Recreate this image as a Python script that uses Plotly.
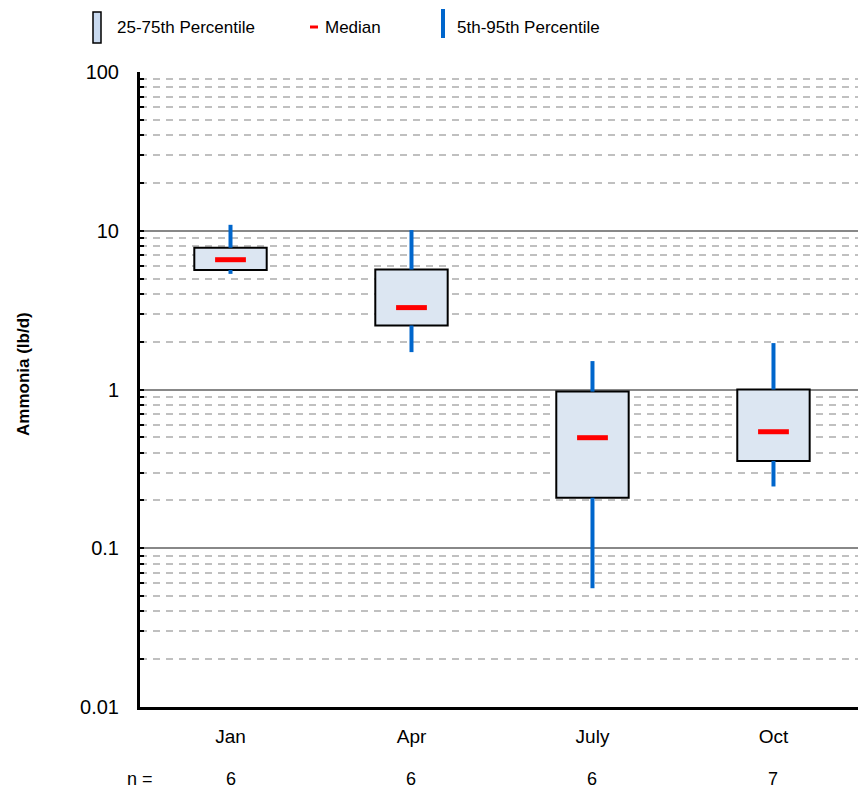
import plotly.graph_objects as go

# Seasonal ammonia load summary statistics (lb/d)
months = ["Jan", "Apr", "July", "Oct"]
p05 = [5.35, 1.72, 0.056, 0.245]
p25 = [5.66, 2.53, 0.208, 0.355]
p50 = [6.57, 3.28, 0.497, 0.542]
p75 = [7.82, 5.70, 0.970, 1.00]
p95 = [10.9, 10.1, 1.51, 1.96]
counts = [6, 6, 6, 7]
y_ticks = [0.01, 0.1, 1, 10, 100]
y_tick_text = ["0.01", "0.1", "1", "10", "100"]

FONT = "Liberation Sans, Arial, sans-serif"
BOX_FILL = "#DCE6F2"
WHISKER = "#0066CC"
MEDIAN = "#FF0000"

# plot-area geometry in pixels (for paper-coordinate helpers)
L, R, T, B = 140, 858, 72, 707


def px_x(px):
    return (px - L) / (R - L)


def px_y(py):
    return (B - py) / (B - T)


fig = go.Figure()

# whiskers: 5th->25th and 75th->95th percentile segments
wx, wy = [], []
for m, lo, q1, q3, hi in zip(months, p05, p25, p75, p95):
    wx += [m, m, None, m, m, None]
    wy += [lo, q1, None, q3, hi, None]
fig.add_trace(go.Scatter(
    x=wx, y=wy, mode="lines",
    line=dict(color=WHISKER, width=4),
    hoverinfo="skip", showlegend=False,
))

# interquartile boxes
fig.add_trace(go.Bar(
    x=months,
    y=[q3 - q1 for q1, q3 in zip(p25, p75)],
    base=p25,
    width=0.4,
    marker=dict(color=BOX_FILL, line=dict(color="#000000", width=2)),
    showlegend=False,
))

# medians
fig.add_trace(go.Scatter(
    x=months, y=p50, mode="markers",
    marker=dict(symbol="line-ew", size=22,
                line=dict(color=MEDIAN, width=5)),
    showlegend=False,
))

annotations = []
# sample counts row
count_y = px_y(779)
annotations.append(dict(
    x=0, y=count_y, xref="paper", yref="paper", text="n =",
    showarrow=False, xanchor="center", yanchor="middle",
    font=dict(family=FONT, size=18, color="#000"),
))
for m, n in zip(months, counts):
    annotations.append(dict(
        x=m, y=count_y, xref="x", yref="paper", text=str(n),
        showarrow=False, xanchor="center", yanchor="middle",
        font=dict(family=FONT, size=18, color="#000"),
    ))

# y-axis title
annotations.append(dict(
    x=px_x(23), y=px_y(374), xref="paper", yref="paper",
    text="<b>Ammonia (lb/d)</b>", textangle=-90, showarrow=False,
    xanchor="center", yanchor="middle",
    font=dict(family=FONT, size=17, color="#000"),
))

# legend entries
legend_font = dict(family=FONT, size=17, color="#000")
for text, xpx in [("25-75th Percentile", 115), ("Median", 323),
                  ("5th-95th Percentile", 455)]:
    annotations.append(dict(
        x=px_x(xpx), y=px_y(28), xref="paper", yref="paper", text=text,
        showarrow=False, xanchor="left", yanchor="middle", font=legend_font,
    ))

shapes = [
    dict(type="rect", xref="paper", yref="paper",
         x0=px_x(93), x1=px_x(101), y0=px_y(43), y1=px_y(12),
         fillcolor="#C9DAF0", line=dict(color="#000", width=1.5)),
    dict(type="line", xref="paper", yref="paper",
         x0=px_x(310), x1=px_x(318), y0=px_y(27), y1=px_y(27),
         line=dict(color=MEDIAN, width=3)),
    dict(type="line", xref="paper", yref="paper",
         x0=px_x(443), x1=px_x(443), y0=px_y(38), y1=px_y(9),
         line=dict(color=WHISKER, width=4)),
]

fig.update_layout(
    width=858, height=789,
    margin=dict(l=L, r=858 - R, t=T, b=789 - B),
    paper_bgcolor="white", plot_bgcolor="white",
    barmode="overlay",
    showlegend=False,
    font=dict(family=FONT, color="#000"),
    annotations=annotations,
    shapes=shapes,
    xaxis=dict(
        type="category", range=[-0.5, 3.467],
        showline=True, linecolor="#000", linewidth=3,
        showgrid=False, ticks="", zeroline=False,
        tickfont=dict(family=FONT, size=19, color="#000"),
        ticklabelstandoff=10,
    ),
    yaxis=dict(
        type="log", range=[-2, 2],
        tickvals=y_ticks, ticktext=y_tick_text,
        showline=True, linecolor="#000", linewidth=3,
        ticks="inside", ticklen=4, tickwidth=2, tickcolor="#000",
        showgrid=True, gridcolor="#888888", gridwidth=2,
        zeroline=False,
        tickfont=dict(family=FONT, size=20, color="#000"),
        ticklabelstandoff=14,
        minor=dict(
            dtick="D1", showgrid=True, gridcolor="#C0C0C0",
            gridwidth=2, griddash="7px,6px",
            ticks="inside", ticklen=4, tickcolor="#000", tickwidth=2,
        ),
    ),
)

fig.write_html("out.html")
